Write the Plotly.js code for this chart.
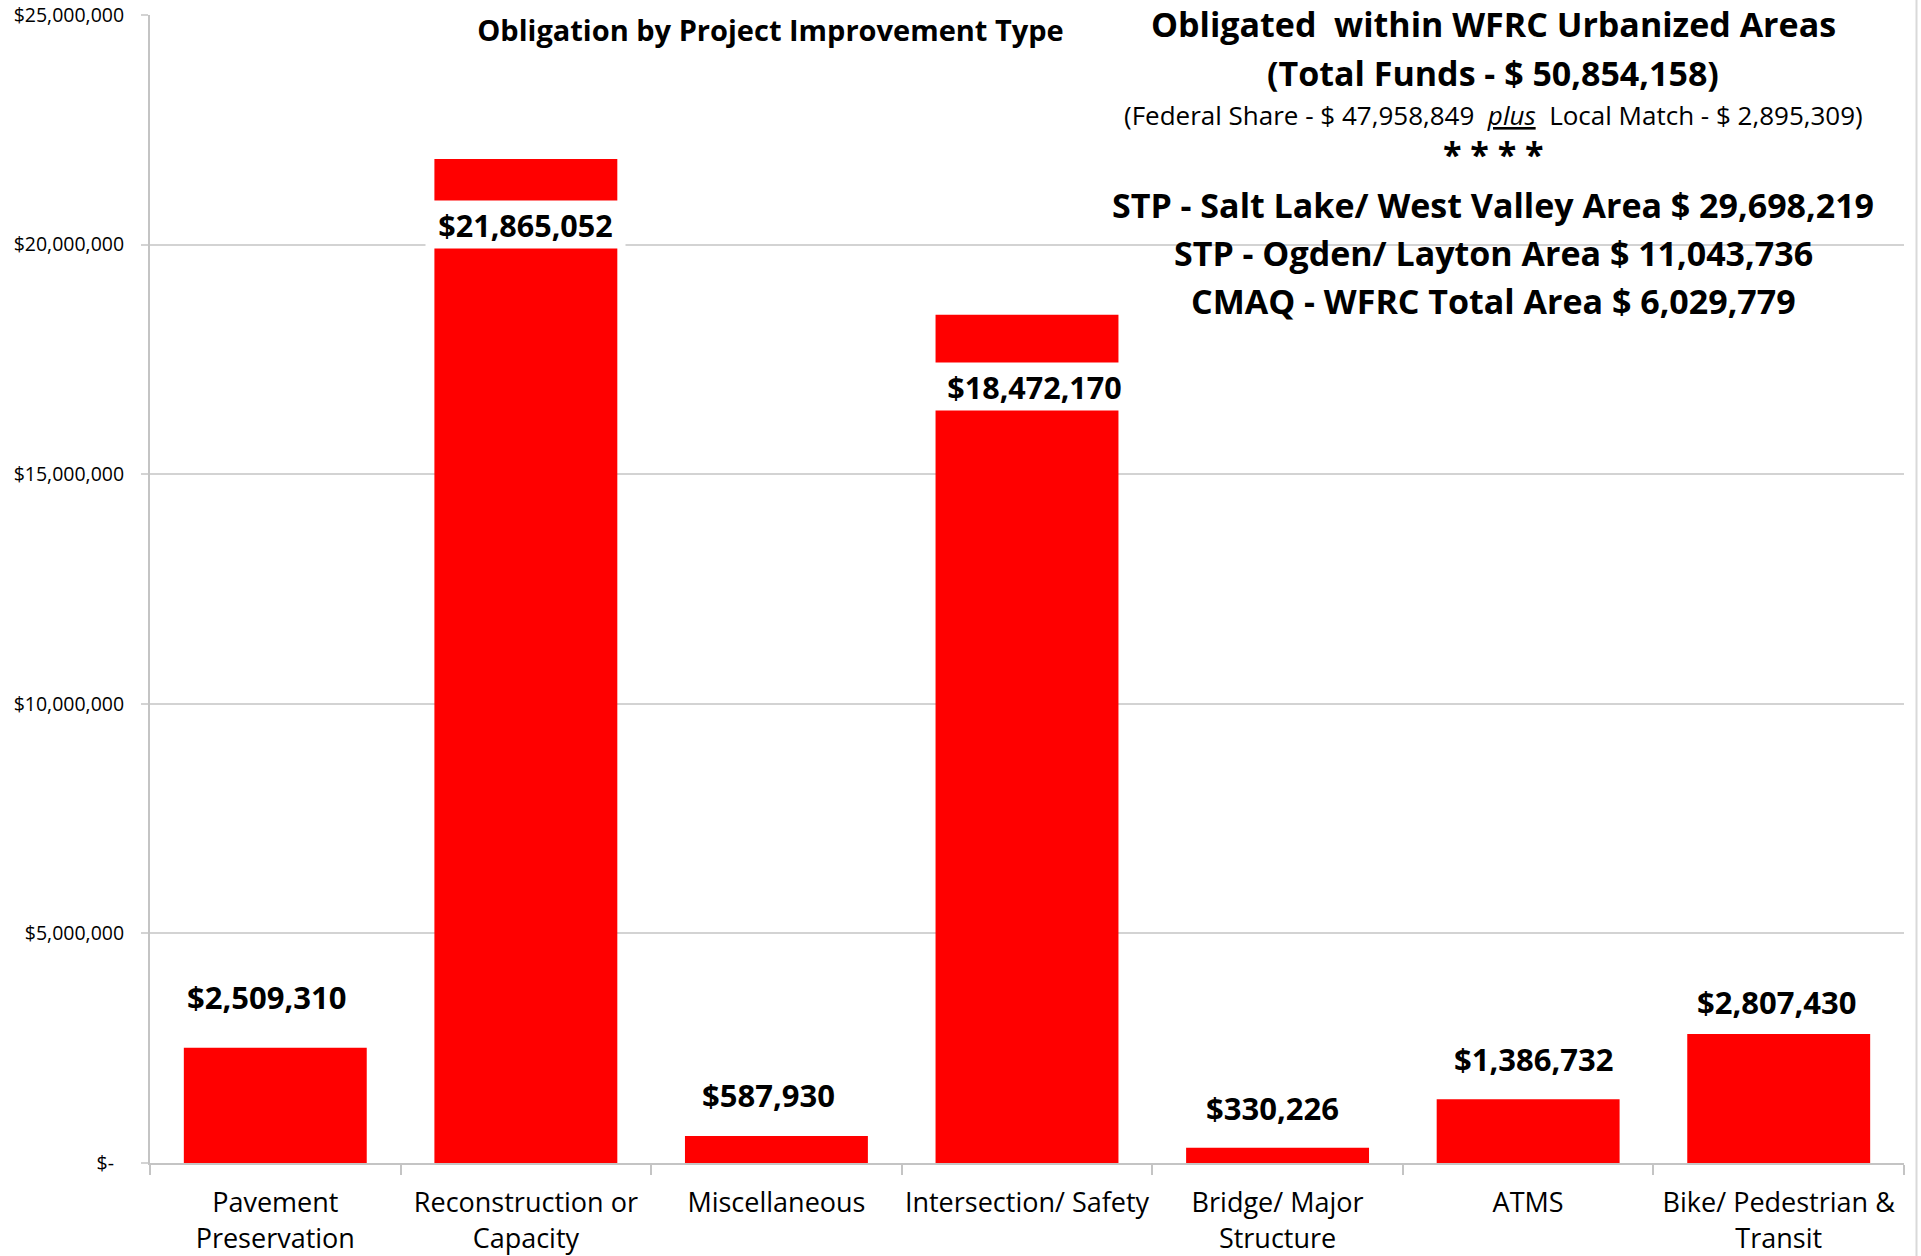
<!DOCTYPE html>
<html>
<head>
<meta charset="utf-8">
<script src="https://cdn.plot.ly/plotly-3.0.1.min.js"></script>
<style>
  html, body { margin: 0; padding: 0; background: #ffffff; }
  #chart { width: 1921px; height: 1256px; }
</style>
</head>
<body>
<div id="chart"></div>
<script>
// ---------------- data ----------------
const categories = [
  'Pavement Preservation',
  'Reconstruction or Capacity',
  'Miscellaneous',
  'Intersection/ Safety',
  'Bridge/ Major Structure',
  'ATMS',
  'Bike/ Pedestrian & Transit'
];
const tickLabels = [
  'Pavement<br>Preservation',
  'Reconstruction or<br>Capacity',
  'Miscellaneous',
  'Intersection/ Safety',
  'Bridge/ Major<br>Structure',
  'ATMS',
  'Bike/ Pedestrian &amp;<br>Transit'
];
const obligated = [2509310, 21865052, 587930, 18472170, 330226, 1386732, 2807430];

const yTickVals = [0, 5000000, 10000000, 15000000, 20000000, 25000000];
const yTickText = ['$-\u00a0\u00a0', '$5,000,000', '$10,000,000', '$15,000,000', '$20,000,000', '$25,000,000'];

const chartTitle = 'Obligation by Project Improvement Type';
const summaryLines = [
  '<b>Obligated\u00a0\u00a0within WFRC Urbanized Areas</b>',
  '<b>(Total Funds - $ 50,854,158)</b>',
  '(Federal Share - $ 47,958,849\u00a0\u00a0<i><u>plus</u></i>\u00a0\u00a0Local Match - $ 2,895,309)',
  '<b>* * * *</b>',
  '<b>STP - Salt Lake/ West Valley Area $ 29,698,219</b>',
  '<b>STP - Ogden/ Layton Area $ 11,043,736</b>',
  '<b>CMAQ - WFRC Total Area $ 6,029,779</b>'
];

// ---------------- layout geometry / styles ----------------
const W = 1921, H = 1256;
const M = { l: 150, r: 17, t: 15, b: 93 };
const plotW = W - M.l - M.r, plotH = H - M.t - M.b;
const pxX = px => (px - M.l) / plotW;
const pxY = py => (H - M.b - py) / plotH;

const FONT = '"Open Sans", "Noto Sans", sans-serif';
const BAR_COLOR = '#ff0000';
const GRID = '#d3d3d3';
const AXIS = '#c4c4c4';

// label placement (style, not data): inside white box or above bar
const labelInside = [false, true, false, true, false, false, false];
const labelYShift = [51, -66, 41, -72, 40, 40, 32];
const labelXShift = [-9, 0, -8, 7, -5, 5, -2];

const summaryFont = [34, 34, 26, 34, 34, 34, 34];
const summaryY = [24.5, 73, 115, 154, 205, 253, 301];

function money(v) { return '$' + v.toLocaleString('en-US'); }

const annotations = [];
obligated.forEach((v, i) => {
  const inside = labelInside[i];
  annotations.push({
    x: categories[i], y: v, xref: 'x', yref: 'y',
    text: '<b>' + money(v) + '</b>',
    showarrow: false,
    xanchor: 'center', yanchor: 'middle',
    xshift: labelXShift[i], yshift: labelYShift[i],
    font: { family: FONT, size: inside ? 30.5 : 31, color: '#000000' },
    bgcolor: inside ? '#ffffff' : 'rgba(0,0,0,0)',
    width: inside ? 199 : undefined,
    height: inside ? 47 : undefined,
    borderpad: 0
  });
});

annotations.push({
  xref: 'paper', yref: 'paper', x: pxX(770.5), y: pxY(29),
  text: '<b>' + chartTitle + '</b>', showarrow: false,
  xanchor: 'center', yanchor: 'middle',
  font: { family: FONT, size: 29, color: '#000000' },
  bgcolor: '#ffffff', width: 679, height: 44, borderpad: 0
});

summaryLines.forEach((t, i) => {
  annotations.push({
    xref: 'paper', yref: 'paper', x: pxX(1493), y: pxY(summaryY[i]),
    text: t, showarrow: false, xanchor: 'center', yanchor: 'middle',
    font: { family: FONT, size: summaryFont[i], color: '#000000' }
  });
});

const shapes = [
  // white text-box background behind the summary block (hides top gridline)
  { type: 'rect', xref: 'paper', yref: 'paper', layer: 'above',
    x0: pxX(1137), x1: pxX(1905), y0: pxY(45), y1: pxY(-5),
    fillcolor: '#ffffff', line: { width: 0 } },
  // chart-area border on the right
  { type: 'line', xref: 'paper', yref: 'paper', layer: 'above',
    x0: pxX(1916.5), x1: pxX(1916.5), y0: pxY(H), y1: pxY(0),
    line: { color: '#d9d9d9', width: 2 } }
];

const trace = {
  type: 'bar',
  x: categories,
  y: obligated,
  marker: { color: BAR_COLOR, line: { width: 0 } },
  hoverinfo: 'x+y'
};

const layout = {
  width: W, height: H,
  margin: M,
  paper_bgcolor: '#ffffff', plot_bgcolor: '#ffffff',
  showlegend: false,
  bargap: 0.27,
  font: { family: FONT, color: '#000000' },
  xaxis: {
    type: 'category',
    tickmode: 'array', tickvals: categories, ticktext: tickLabels,
    tickangle: 0,
    tickson: 'boundaries', ticks: 'outside', ticklen: 10, tickwidth: 2, tickcolor: AXIS,
    showline: true, linecolor: AXIS, linewidth: 2,
    showgrid: false, zeroline: false,
    ticklabelstandoff: 15,
    tickfont: { family: FONT, size: 27, color: '#000000' },
    automargin: false, fixedrange: true
  },
  yaxis: {
    range: [0, 25000000],
    tickmode: 'array', tickvals: yTickVals, ticktext: yTickText,
    ticks: 'outside', ticklen: 7, tickwidth: 2, tickcolor: GRID,
    showline: true, linecolor: AXIS, linewidth: 2,
    showgrid: true, gridcolor: GRID, gridwidth: 2,
    zeroline: false,
    ticklabelstandoff: 13,
    tickfont: { family: FONT, size: 19.5, color: '#000000' },
    automargin: false, fixedrange: true
  },
  annotations: annotations,
  shapes: shapes
};

Plotly.newPlot('chart', [trace], layout, { displayModeBar: false, staticPlot: true });
</script>
</body>
</html>
